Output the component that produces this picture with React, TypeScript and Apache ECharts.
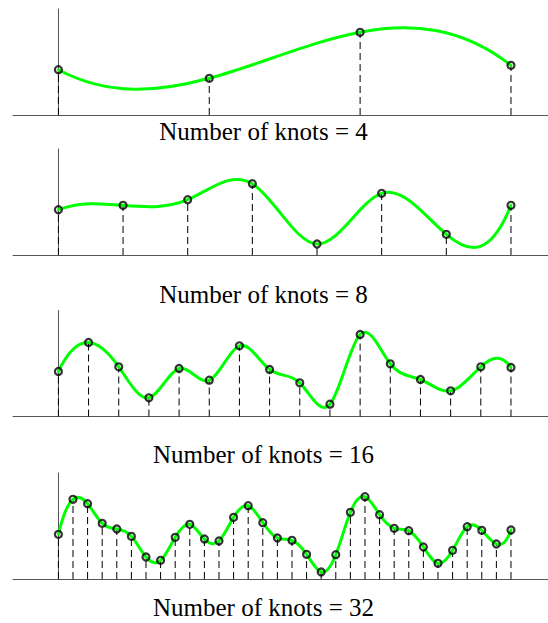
import React, { useEffect, useRef } from "react";
import * as echarts from "echarts";

// Knot heights (same vertical units for every panel)
const knots4 = [45.3, 36.7, 82.7, 49.7];
const knots8 = [45.3, 49.7, 55.3, 71.3, 11, 61.7, 20.7, 49.7];
const knots16 = [45, 74, 49.7, 18.7, 48, 36.3, 70.7, 47, 33.7, 12.3, 82, 52.7, 37, 25.7, 49.7, 49];
const knots32 = [
  44.7, 79.7, 75.3, 55.7, 50, 42.7, 22, 18.7, 41.7, 54.7, 40, 38, 61.7, 73.3, 56.3, 41,
  38.7, 24.7, 7, 24.3, 66.7, 82.3, 64.3, 50.7, 48.3, 32, 15.7, 28.7, 52.3, 48.7, 35, 49,
];

const panelKnots = [knots4, knots8, knots16, knots32];
const panelLabels = [
  "Number of knots = 4",
  "Number of knots = 8",
  "Number of knots = 16",
  "Number of knots = 32",
];

// axis ranges
const X_MIN = -0.1003;
const X_MAX = 1.0818;
const Y_MIN = 0;
const Y_MAX = 106;

// layout
const gridBottoms = [115, 255, 416.5, 579];
const GRID_H = 106;
const labelMids = [131, 294, 454, 607.6];
const LABEL_X = 263.5;

const GREEN = "#00ff00";

// Second derivatives of the not-a-knot cubic spline (uniform unit spacing)
function splineSecondDerivs(y: number[]): number[] {
  const n = y.length;
  const A: number[][] = Array.from({ length: n }, () => new Array(n).fill(0));
  const b: number[] = new Array(n).fill(0);
  A[0][0] = 1;
  A[0][1] = -2;
  A[0][2] = 1;
  for (let i = 1; i < n - 1; i++) {
    A[i][i - 1] = 1;
    A[i][i] = 4;
    A[i][i + 1] = 1;
    b[i] = 6 * (y[i + 1] - 2 * y[i] + y[i - 1]);
  }
  A[n - 1][n - 3] = 1;
  A[n - 1][n - 2] = -2;
  A[n - 1][n - 1] = 1;
  for (let c = 0; c < n; c++) {
    let p = c;
    for (let r = c + 1; r < n; r++) if (Math.abs(A[r][c]) > Math.abs(A[p][c])) p = r;
    [A[c], A[p]] = [A[p], A[c]];
    [b[c], b[p]] = [b[p], b[c]];
    for (let r = c + 1; r < n; r++) {
      const f = A[r][c] / A[c][c];
      if (f === 0) continue;
      for (let k = c; k < n; k++) A[r][k] -= f * A[c][k];
      b[r] -= f * b[c];
    }
  }
  const M = new Array(n).fill(0);
  for (let r = n - 1; r >= 0; r--) {
    let s = b[r];
    for (let k = r + 1; k < n; k++) s -= A[r][k] * M[k];
    M[r] = s / A[r][r];
  }
  return M;
}

export default function App() {
  const ref = useRef<HTMLDivElement>(null);

  useEffect(() => {
    if (!ref.current) return;
    const chart = echarts.init(ref.current, undefined, { renderer: "svg" });

    const grids: any[] = [];
    const xAxes: any[] = [];
    const yAxes: any[] = [];
    const series: any[] = [];
    const graphics: any[] = [];

    const axisLine = { show: true, lineStyle: { color: "#555", width: 1 } };

    panelKnots.forEach((ys, k) => {
      const n = ys.length;
      const data = ys.map((v, i) => [i / (n - 1), v]);
      grids.push({ left: 13, right: 0, top: gridBottoms[k] - GRID_H, height: GRID_H });
      xAxes.push({
        type: "value",
        gridIndex: k,
        min: X_MIN,
        max: X_MAX,
        axisLine,
        axisTick: { show: false },
        axisLabel: { show: false },
        splitLine: { show: false },
      });
      yAxes.push({
        type: "value",
        gridIndex: k,
        min: Y_MIN,
        max: Y_MAX,
        axisLine,
        axisTick: { show: false },
        axisLabel: { show: false },
        splitLine: { show: false },
      });

      // dashed drop lines
      series.push({
        type: "custom",
        xAxisIndex: k,
        yAxisIndex: k,
        z: 1,
        data,
        renderItem: (params: any, api: any) => {
          const top = api.coord([api.value(0), api.value(1)]);
          const bot = api.coord([api.value(0), 0]);
          return {
            type: "line",
            shape: { x1: bot[0], y1: bot[1], x2: top[0], y2: top[1] },
            style: { stroke: "#000", lineWidth: 1, lineDash: [7, 4] },
          };
        },
      });

      // spline curve through the knots
      const M = splineSecondDerivs(ys);
      const tx = (i: number) => i / (n - 1);
      series.push({
        type: "custom",
        xAxisIndex: k,
        yAxisIndex: k,
        z: 2,
        data,
        renderItem: (params: any, api: any) => {
          if (params.dataIndex !== 0) return null;
          const p0 = api.coord([tx(0), ys[0]]);
          let d = `M${p0[0]} ${p0[1]}`;
          for (let i = 0; i < n - 1; i++) {
            const dy = ys[i + 1] - ys[i];
            const sL = dy - (2 * M[i] + M[i + 1]) / 6;
            const sR = dy + (M[i] + 2 * M[i + 1]) / 6;
            const c1 = api.coord([tx(i + 1 / 3), ys[i] + sL / 3]);
            const c2 = api.coord([tx(i + 1 - 1 / 3), ys[i + 1] - sR / 3]);
            const e = api.coord([tx(i + 1), ys[i + 1]]);
            d += ` C${c1[0]} ${c1[1]} ${c2[0]} ${c2[1]} ${e[0]} ${e[1]}`;
          }
          return {
            type: "path",
            shape: { pathData: d },
            style: { fill: "none", stroke: GREEN, lineWidth: 3, lineJoin: "round", lineCap: "round" },
          };
        },
      });

      // knot markers
      series.push({
        type: "scatter",
        xAxisIndex: k,
        yAxisIndex: k,
        z: 3,
        symbol: "circle",
        symbolSize: 7,
        itemStyle: { color: "rgba(0,0,0,0)", borderColor: "#000", borderWidth: 2.2 },
        data,
      });

      graphics.push({
        type: "text",
        x: LABEL_X,
        y: labelMids[k],
        style: {
          text: panelLabels[k],
          font: '25px "Liberation Serif", "Times New Roman", serif',
          fill: "#000",
          align: "center",
          verticalAlign: "middle",
          textAlign: "center",
          textVerticalAlign: "middle",
        },
      });
    });

    chart.setOption({
      animation: false,
      backgroundColor: "#fff",
      grid: grids,
      xAxis: xAxes,
      yAxis: yAxes,
      series,
      graphic: graphics,
    });

    return () => chart.dispose();
  }, []);

  return (
    <div
      ref={ref}
      style={{ position: "fixed", left: 0, top: 0, width: 548, height: 623, background: "#fff" }}
    />
  );
}
